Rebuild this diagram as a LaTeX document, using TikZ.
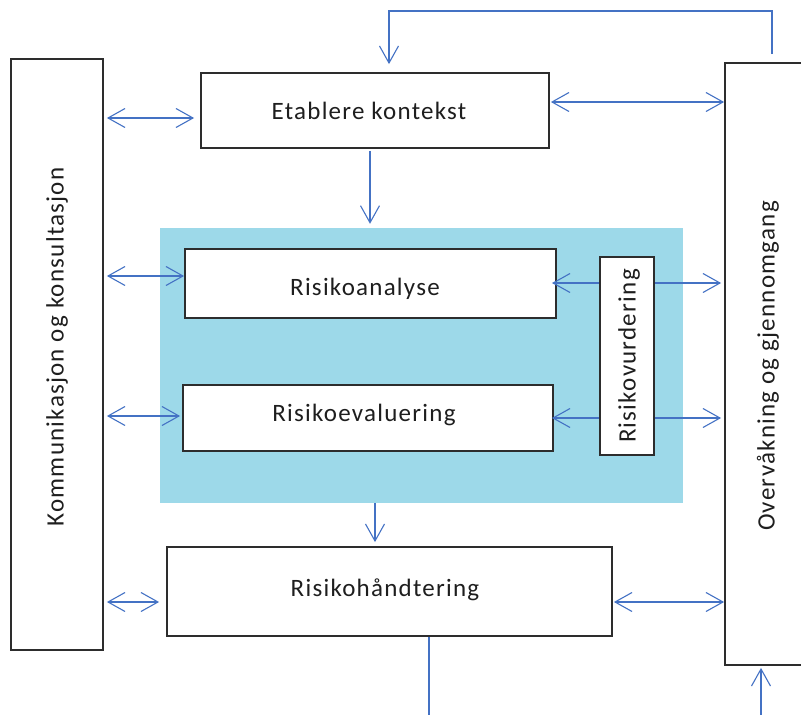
\documentclass[tikz,border=0pt]{standalone}
\usepackage{fontspec}
\setmainfont{Carlito}[LetterSpace=5]
\usetikzlibrary{arrows.meta}
\definecolor{linkblue}{RGB}{68,114,196}
\definecolor{panel}{RGB}{157,217,233}
\definecolor{ink}{RGB}{30,30,30}
\definecolor{frame}{RGB}{45,45,45}
\tikzset{
  box/.style={draw=frame, line width=1.8pt, fill=white, inner sep=0pt},
  label text/.style={text=ink, font=\fontsize{25}{28}\selectfont, inner sep=0pt},
  link/.style={draw=linkblue, line width=1.1pt},
  bi/.style={link, {Straight Barb[length=17pt,width=19pt]}-{Straight Barb[length=17pt,width=19pt]}},
  fwd/.style={link, -{Straight Barb[length=17pt,width=19pt]}},
}
\begin{document}
\begin{tikzpicture}[x=1pt,y=-1pt]
\useasboundingbox (0,0) rectangle (801,715);
% shaded risk-assessment panel
\node[fill=panel, minimum width=523pt, minimum height=275pt, inner sep=0pt] (panel) at (421.5,365.5) {};
% process boxes
\node[box, minimum width=92pt, minimum height=591pt] (komm) at (57,354.5) {};
\node[label text, rotate=90] (kommtxt) at (57,347) {Kommunikasjon og konsultasjon};
\node[box, minimum width=348pt, minimum height=75pt] (etab) at (375,110.5) {};
\node[label text] (etabtxt) at (369,111) {Etablere kontekst};
\node[box, minimum width=82pt, minimum height=602pt] (overv) at (766,364) {};
\node[label text, rotate=90] (overvtxt) at (768,366) {Overvåkning og gjennomgang};
\node[box, minimum width=371pt, minimum height=69pt] (ana) at (370.5,283.5) {};
\node[label text] (anatxt) at (365,289) {Risikoanalyse};
\node[box, minimum width=370pt, minimum height=66pt] (eval) at (368,418) {};
\node[label text] (evaltxt) at (364,414.5) {Risikoevaluering};
\node[box, minimum width=54pt, minimum height=198pt] (vurd) at (627,356) {};
\node[label text, rotate=90] (vurdtxt) at (629,356) {Risikovurdering};
\node[box, minimum width=445pt, minimum height=89pt] (hand) at (389.5,591.5) {};
\node[label text] (handtxt) at (385,590) {Risikohåndtering};
% loop and off-page ends
\coordinate (loopR) at (772,11);
\coordinate (loopL) at (389,11);
\coordinate (hout) at (429,720);
\coordinate (oin) at (761,720);
% communication links
\draw[bi] ([xshift=3pt]komm.east |- 0,118) -- ([xshift=-6pt]etab.west |- 0,118);
\draw[bi] ([xshift=3pt]komm.east |- 0,276) -- ([xshift=0pt]ana.west |- 0,276);
\draw[bi] ([xshift=3pt]komm.east |- 0,416) -- ([xshift=-2pt]eval.west |- 0,416);
\draw[bi] ([xshift=3pt]komm.east |- 0,602) -- ([xshift=-7pt]hand.west |- 0,602);
% monitoring links
\draw[bi] ([xshift=1pt]etab.east |- 0,102) -- (overv.west |- 0,102);
\draw[bi] ([xshift=1pt]hand.east |- 0,602) -- (overv.west |- 0,602);
\draw[fwd] (vurd.west |- 0,283) -- ([xshift=-5pt]ana.east |- 0,283);
\draw[fwd] (vurd.east |- 0,283) -- ([xshift=-3pt]overv.west |- 0,283);
\draw[fwd] (vurd.west |- 0,418) -- ([xshift=-2pt]eval.east |- 0,418);
\draw[fwd] (vurd.east |- 0,418) -- ([xshift=-3pt]overv.west |- 0,418);
% process flow
\draw[fwd] ([yshift=-2pt]etab.south -| 370,0) -- ([yshift=4pt]panel.north -| 370,0);
\draw[fwd] (panel.south -| 375,0) -- ([yshift=4pt]hand.north -| 375,0);
\draw[link] (hand.south -| hout) -- (hout);
\draw[fwd] (oin) -- ([yshift=-2pt]overv.south -| oin);
\draw[fwd] ([yshift=8pt]overv.north -| loopR) -- (loopR) -- (loopL) -- ([yshift=8pt]etab.north -| loopL);
\end{tikzpicture}
\end{document}
